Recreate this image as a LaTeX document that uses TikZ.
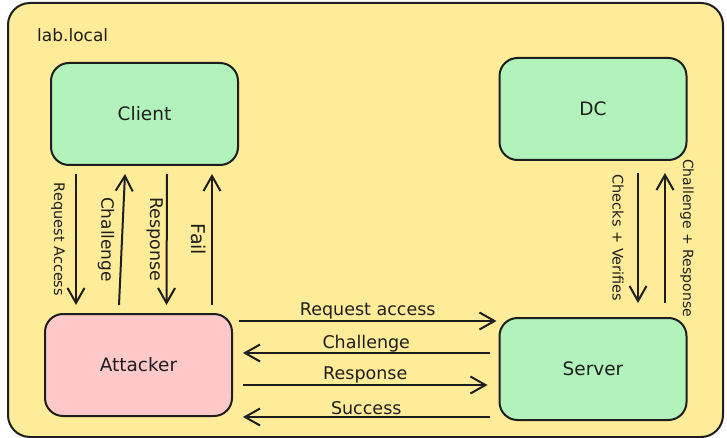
\documentclass[tikz,border=0pt]{standalone}
\usepackage{fontspec}
\setmainfont{DejaVu Sans}
\usetikzlibrary{arrows.meta}
\definecolor{ink}{HTML}{1E1E1E}
\definecolor{labyellow}{HTML}{FFEC99}
\definecolor{hostgreen}{HTML}{B2F2BB}
\definecolor{evilpink}{HTML}{FFC9C9}
\tikzset{
  host/.style={draw=ink, line width=2pt, rounded corners=18pt,
    minimum width=187pt, minimum height=102pt, text=ink,
    font=\fontsize{18.5}{22}\selectfont},
  msg/.style={draw=ink, line width=2pt,
    -{Straight Barb[length=15pt,width=17pt,line width=2pt]}},
  lbl/.style={text=ink, inner sep=1pt, font=\fontsize{17.5}{21}\selectfont},
  smalllbl/.style={text=ink, inner sep=1pt, font=\fontsize{14.5}{17}\selectfont},
}
\begin{document}
\begin{tikzpicture}[x=1pt,y=-1pt]
  \useasboundingbox (0,0) rectangle (727,438);
  \fill[white] (0,0) rectangle (727,438);
  % the lab domain
  \draw[ink, fill=labyellow, line width=2pt, rounded corners=22pt] (8,3) rectangle (723,437);
  \node[lbl, anchor=west, font=\fontsize{17}{20}\selectfont] (domain) at (36,35) {lab.local};

  \node[host, fill=hostgreen] (client) at (144.5,114) {Client};
  \node[host, fill=hostgreen] (dc) at (593,109) {DC};
  \node[host, fill=evilpink] (attacker) at (138.5,365) {Attacker};
  \node[host, fill=hostgreen] (server) at (593,369) {Server};

  % client <-> attacker
  \draw[msg] ([xshift=-68.5pt,yshift=-8pt]client.south) -- ([xshift=-62.5pt,yshift=8pt]attacker.north)
    node[smalllbl, midway, xshift=-18pt, rotate=-90] {Request Access};
  \draw[msg] ([xshift=-19.5pt,yshift=8pt]attacker.north) -- ([xshift=-19.5pt,yshift=-8pt]client.south)
    node[lbl, midway, xshift=-16pt, rotate=-90, font=\fontsize{17}{20}\selectfont] {Challenge};
  \draw[msg] ([xshift=22.5pt,yshift=-8pt]client.south) -- ([xshift=28pt,yshift=8pt]attacker.north)
    node[lbl, midway, xshift=-12pt, rotate=-90, font=\fontsize{17.5}{20}\selectfont] {Response};
  \draw[msg] ([xshift=73.5pt,yshift=8pt]attacker.north) -- ([xshift=67.5pt,yshift=-8pt]client.south)
    node[lbl, midway, xshift=-13pt, rotate=-90, font=\fontsize{19}{22}\selectfont] {Fail};

  % dc <-> server
  \draw[msg] ([xshift=45pt,yshift=-12pt]dc.south) -- ([xshift=45pt,yshift=14pt]server.north)
    node[smalllbl, midway, xshift=-20pt, rotate=-90] {Checks + Verifies};
  \draw[msg, line width=1.5pt] ([xshift=72pt,yshift=14pt]server.north) -- ([xshift=72pt,yshift=-12pt]dc.south)
    node[smalllbl, midway, xshift=22pt, rotate=-90, font=\fontsize{14}{17}\selectfont] {Challenge + Response};

  % attacker <-> server
  \draw[msg] ([xshift=6pt,yshift=44pt]attacker.east) -- ([xshift=-2pt,yshift=48pt]server.west)
    node[lbl, midway, above] {Request access};
  \draw[msg] ([xshift=-9pt,yshift=16pt]server.west) -- ([xshift=10pt,yshift=12pt]attacker.east)
    node[lbl, midway, above, inner sep=0pt] {Challenge};
  \draw[msg] ([xshift=10pt,yshift=-20pt]attacker.east) -- ([xshift=-11pt,yshift=-16pt]server.west)
    node[lbl, midway, above] {Response};
  \draw[msg] ([xshift=-9pt,yshift=-48pt]server.west) -- ([xshift=10pt,yshift=-52pt]attacker.east)
    node[lbl, midway, above] {Success};
\end{tikzpicture}
\end{document}
